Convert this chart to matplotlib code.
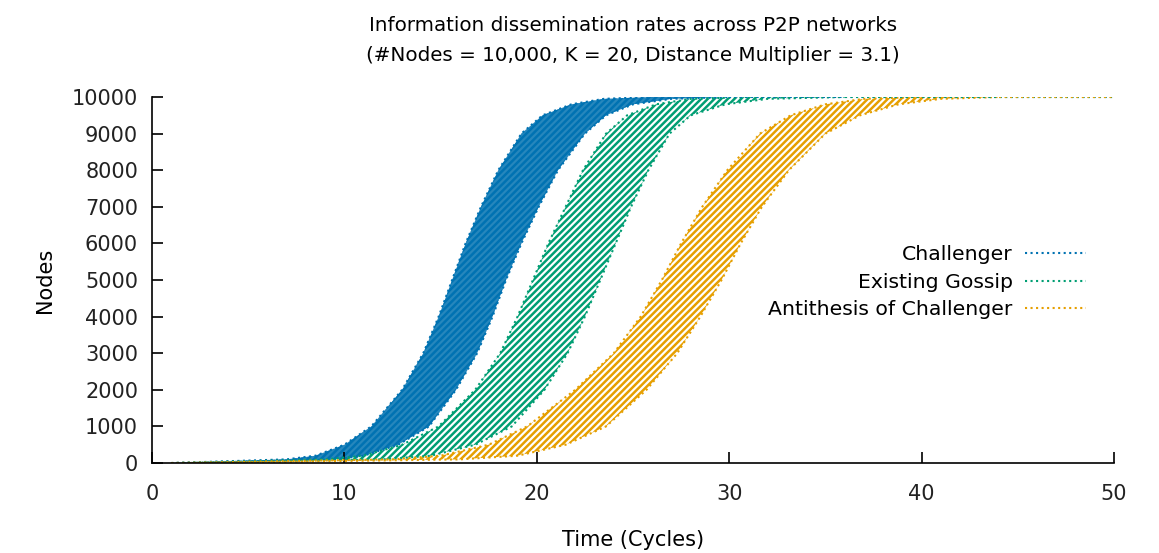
import numpy as np
import matplotlib
matplotlib.use("Agg")
import matplotlib.pyplot as plt
from matplotlib.lines import Line2D

# node levels at which the edges of each bundle of runs were read (y values)
levels = [0, 100, 200, 500, 1000, 2000, 3000, 4000, 5000, 6000, 7000,
          8000, 9000, 9500, 9800, 9950, 10000]

# time (cycles) of the earliest / latest run reaching each level
challenger_left = [1, 7.0, 8.5, 10.0, 11.4, 13.0, 14.1, 14.9, 15.6, 16.3, 17.1,
                   18.0, 19.2, 20.3, 21.8, 23.5, 26.0]
challenger_right = [2, 9.5, 11.0, 12.8, 14.4, 15.8, 16.9, 17.7, 18.4, 19.2, 20.1,
                    21.1, 22.5, 23.6, 25.0, 27.0, 30.0]
gossip_left = [1, 9.0, 11.0, 13.0, 14.9, 16.8, 18.1, 19.0, 19.8, 20.6, 21.5,
               22.4, 23.6, 24.7, 26.2, 28.0, 31.0]
gossip_right = [2, 12.0, 14.5, 16.8, 18.7, 20.4, 21.6, 22.5, 23.3, 24.1, 24.9,
                25.8, 26.9, 28.0, 29.8, 32.0, 36.0]
anti_left = [1, 12.5, 15.0, 17.5, 19.5, 22.0, 24.0, 25.4, 26.5, 27.5, 28.6,
             29.9, 31.6, 33.2, 35.0, 37.0, 40.0]
anti_right = [2, 16.0, 19.0, 21.5, 23.6, 25.7, 27.3, 28.5, 29.6, 30.6, 31.7,
              33.1, 35.0, 36.8, 38.8, 41.0, 44.0]

names = ["Challenger", "Existing Gossip", "Antithesis of Challenger"]
colors = ["#0072b2", "#009e73", "#e69f00"]

plt.rcParams['font.family'] = ['DejaVu Sans']
plt.rcParams['hatch.linewidth'] = 1.8

fig = plt.figure(figsize=(11.59, 5.53), dpi=100)
ax = fig.add_axes([0.1311, 0.1627, 0.8301, 0.6619])

bundles = [(challenger_left, challenger_right),
           (gossip_left, gossip_right),
           (anti_left, anti_right)]
for (lft, rgt), c, i in zip(bundles, colors, range(3)):
    if i == 0:
        ax.fill_betweenx(levels, lft, rgt, facecolor=c, alpha=0.85, edgecolor='none', linewidth=0)
    ax.fill_betweenx(levels, lft, rgt, facecolor='none', edgecolor=c, hatch='/////', linewidth=0)
    ax.plot(lft, levels, linestyle=':', color=c, lw=1.5)
    ax.plot(rgt, levels, linestyle=':', color=c, lw=1.5)
# flat tail at full coverage
for c, r in zip(colors, [challenger_right, gossip_right, anti_right]):
    ax.plot([r[-1], 50], [10000, 10000], linestyle=':', color=c, lw=1.5)

ax.set_xlim(0, 50)
ax.set_ylim(0, 10000)
ax.set_xticks([0, 10, 20, 30, 40, 50])
ax.set_yticks(np.arange(0, 10001, 1000))
ax.spines['top'].set_visible(False)
ax.spines['right'].set_visible(False)
ax.spines['left'].set_linewidth(1.2)
ax.spines['bottom'].set_linewidth(1.2)
ax.tick_params(direction='in', length=8, width=1.2, labelsize=15)
ax.tick_params(labelcolor='#222222')
ax.tick_params(axis='x', pad=15)
ax.tick_params(axis='y', pad=10)

ax.set_xlabel("Time (Cycles)", fontsize=15, labelpad=19)
ax.set_ylabel("Nodes", fontsize=15, labelpad=12)
ax.set_title("Information dissemination rates across P2P networks\n"
             "(#Nodes = 10,000, K = 20, Distance Multiplier = 3.1)",
             fontsize=14.3, pad=26, linespacing=1.75)

handles = [Line2D([0], [0], color=c, linestyle=':', lw=1.5) for c in colors]
ax.legend(handles, names, loc='upper right', bbox_to_anchor=(0.99, 0.645),
          frameon=False, markerfirst=False, fontsize=14.7, handlelength=3.0,
          labelspacing=0.42, handletextpad=0.6)

fig.savefig("out.png", dpi=100)
